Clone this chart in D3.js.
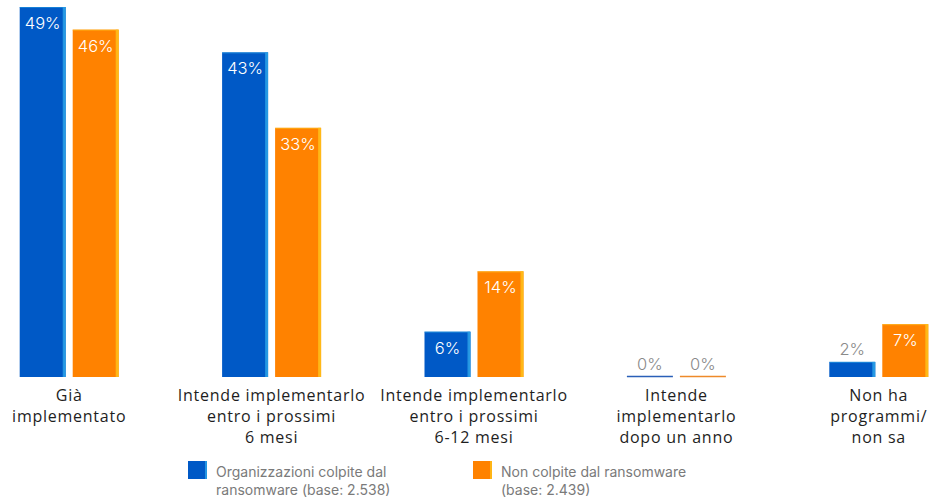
<!DOCTYPE html>
<html>
<head>
<meta charset="utf-8">
<script src="https://cdn.jsdelivr.net/npm/d3@7/dist/d3.min.js"></script>
<style>
  html, body { margin: 0; padding: 0; background: #fff; }
  svg { display: block; }
  text { font-family: Inter, Roboto, "Noto Sans", sans-serif; }
  text.cat { font-family: "Open Sans", Inter, sans-serif; letter-spacing: 0.75px; }
</style>
</head>
<body>
<svg id="chart" width="930" height="498"></svg>
<script>
// Categories (multi-line labels) and the two survey groups
const categories = [
  ["Già", "implementato"],
  ["Intende implementarlo", "entro i prossimi", "6 mesi"],
  ["Intende implementarlo", "entro i prossimi", "6-12 mesi"],
  ["Intende", "implementarlo", "dopo un anno"],
  ["Non ha", "programmi/", "non sa"]
];
const seriesNames = ["Organizzazioni colpite dal ransomware (base: 2.538)", "Non colpite dal ransomware (base: 2.439)"];
const legendLines = [
  ["Organizzazioni colpite dal", "ransomware (base: 2.538)"],
  ["Non colpite dal ransomware", "(base: 2.439)"]
];
const hitValues = [49, 43, 6, 0, 2];
const notHitValues = [46, 33, 14, 0, 7];

const colors = ["#0059c6", "#ff8200"];
const edgeColors = ["#2aa0e6", "#ffbe1a"];
const zeroLineColors = ["#2a5fb8", "#ee8a2a"];

const svg = d3.select("#chart");
const baseline = 377;

const catKeys = categories.map((c, i) => i);
const x0 = d3.scaleBand().domain(catKeys).range([-32, 980]).padding(0);
const groupW = 99;
const x1 = d3.scaleBand().domain([0, 1])
  .range([(x0.bandwidth() - groupW) / 2, (x0.bandwidth() + groupW) / 2])
  .paddingInner(0.132);
const y = d3.scaleLinear().domain([0, 49]).range([baseline, 7]);

const data = categories.map((c, i) => ({
  i,
  vals: [hitValues[i], notHitValues[i]]
}));

const groups = svg.selectAll("g.grp").data(data).enter().append("g")
  .attr("class", "grp")
  .attr("transform", d => `translate(${x0(d.i)},0)`);

groups.each(function (d) {
  const g = d3.select(this);
  d.vals.forEach((v, s) => {
    const bx = x1(s), bw = x1.bandwidth();
    if (v > 0) {
      const top = y(v);
      g.append("rect")
        .attr("x", bx).attr("y", top)
        .attr("width", bw).attr("height", baseline - top)
        .attr("fill", colors[s]);
      // lighter highlight along the top and right edges
      g.append("path")
        .attr("d", `M${bx},${top + 0.5}H${bx + bw - 1}V${baseline}`)
        .attr("fill", "none")
        .attr("stroke", edgeColors[s])
        .attr("stroke-width", 1.2)
        .attr("opacity", 0.55);
      g.append("rect")
        .attr("x", bx + bw - 3).attr("y", top)
        .attr("width", 3).attr("height", baseline - top)
        .attr("fill", edgeColors[s]).attr("opacity", 0.85);
    } else {
      g.append("line")
        .attr("x1", bx).attr("x2", bx + bw)
        .attr("y1", baseline - 0.5).attr("y2", baseline - 0.5)
        .attr("stroke", zeroLineColors[s]).attr("stroke-width", 1.5);
    }
    const inside = v >= 5;
    g.append("text")
      .attr("x", bx + bw / 2)
      .attr("y", inside ? y(v) + 22 : y(v) - 7)
      .attr("text-anchor", "middle")
      .attr("font-size", 16.5)
      .attr("font-weight", 300)
      .attr("fill", inside ? "#ffffff" : "#8a8a8a")
      .text(v + "%");
  });

  // category label
  const t = g.append("text")
    .attr("class", "cat")
    .attr("text-anchor", "middle")
    .attr("font-size", 16)
    .attr("font-weight", 400)
    .attr("fill", "#1e1e1e");
  categories[d.i].forEach((line, k) => {
    t.append("tspan")
      .attr("x", x0.bandwidth() / 2)
      .attr("y", 401 + k * 21)
      .text(line);
  });
});

// legend
const legendX = [188, 473];
seriesNames.forEach((name, s) => {
  const lg = svg.append("g").attr("transform", `translate(${legendX[s]},461)`);
  lg.append("rect").attr("width", 19).attr("height", 18).attr("fill", colors[s]);
  lg.append("rect").attr("x", 17).attr("width", 2).attr("height", 18).attr("fill", edgeColors[s]).attr("opacity", 0.85);
  const t = lg.append("text").attr("font-size", 14).attr("fill", "#7a7a7a");
  legendLines[s].forEach((line, k) => {
    t.append("tspan").attr("x", 28).attr("y", 15.5 + k * 18).text(line);
  });
});
</script>
</body>
</html>
